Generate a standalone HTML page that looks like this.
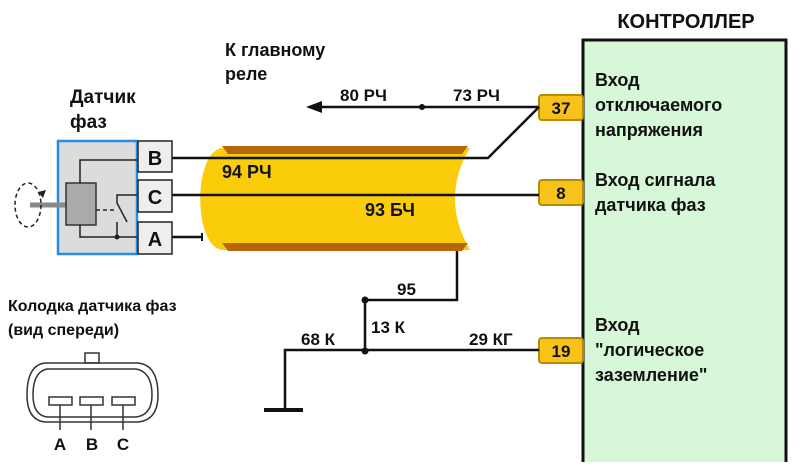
<!DOCTYPE html>
<html><head><meta charset="utf-8"><style>
body{margin:0;background:#fff}
svg text{font-family:"Liberation Sans","DejaVu Sans",sans-serif;font-weight:bold;fill:#111}
</style></head><body>
<svg width="800" height="462" viewBox="0 0 800 462" xmlns="http://www.w3.org/2000/svg">
<!-- controller -->
<rect x="583" y="40" width="203" height="440" fill="#d6f7d8" stroke="#111" stroke-width="3"/>
<text x="686" y="28" font-size="20" text-anchor="middle">КОНТРОЛЛЕР</text>
<text x="595" y="86" font-size="18">Вход</text>
<text x="595" y="111" font-size="18">отключаемого</text>
<text x="595" y="136" font-size="18">напряжения</text>
<text x="595" y="186" font-size="18">Вход сигнала</text>
<text x="595" y="211" font-size="18">датчика фаз</text>
<text x="595" y="331" font-size="18">Вход</text>
<text x="595" y="356" font-size="18">"логическое</text>
<text x="595" y="381" font-size="18">заземление"</text>
<!-- pins -->
<g fill="#f7c21a" stroke="#b88a00" stroke-width="2">
<rect x="539" y="95" width="44" height="25" rx="3"/>
<rect x="539" y="180" width="44" height="25" rx="3"/>
<rect x="539" y="338" width="44" height="25" rx="3"/>
</g>
<text x="561" y="114" font-size="17" text-anchor="middle">37</text>
<text x="561" y="199" font-size="17" text-anchor="middle">8</text>
<text x="561" y="357" font-size="17" text-anchor="middle">19</text>
<!-- cable -->
<path d="M222 148 L470 148 Q440 198 470 250 L222 250 C193 246 193 152 222 148 Z" fill="#fbcc0a"/>
<polygon points="222,146 468,146 462,154 228,154" fill="#b8660a"/>
<polygon points="222,243 468,243 462,251 228,251" fill="#b8660a"/>
<!-- wires -->
<g stroke="#111" stroke-width="2.5" fill="none">
<line x1="320" y1="107" x2="539" y2="107"/>
<polyline points="539,107 488,158 172,158"/>
<line x1="172" y1="195" x2="539" y2="195"/>
<line x1="172" y1="237" x2="202" y2="237"/>
<line x1="202" y1="233" x2="202" y2="241" stroke-width="2"/>
<polyline points="457,251 457,300 365,300 365,351"/>
<polyline points="539,350 285,350 285,410"/>
<line x1="264" y1="410" x2="303" y2="410" stroke-width="4"/>
</g>
<polygon points="306,107 322,101 322,113" fill="#111"/>
<circle cx="422" cy="107" r="3" fill="#111"/>
<circle cx="365" cy="300" r="3.5" fill="#111"/>
<circle cx="365" cy="351" r="3.5" fill="#111"/>
<text x="340" y="101" font-size="17">80 РЧ</text>
<text x="453" y="101" font-size="17">73 РЧ</text>
<text x="222" y="178" font-size="18">94 РЧ</text>
<text x="365" y="216" font-size="18">93 БЧ</text>
<text x="397" y="295" font-size="17">95</text>
<text x="371" y="333" font-size="17">13 К</text>
<text x="301" y="345" font-size="17">68 К</text>
<text x="469" y="345" font-size="17">29 КГ</text>
<text x="225" y="56" font-size="18">К главному</text>
<text x="225" y="80" font-size="18">реле</text>
<text x="70" y="103" font-size="19">Датчик</text>
<text x="70" y="128" font-size="19">фаз</text>
<!-- sensor -->
<rect x="58" y="141" width="79" height="113" fill="#dcdcdc" stroke="#2a8ee0" stroke-width="2.5"/>
<g fill="#eee" stroke="#222" stroke-width="1.5">
<rect x="138" y="141" width="34" height="31"/>
<rect x="138" y="180" width="34" height="32"/>
<rect x="138" y="222" width="34" height="32"/>
</g>
<text x="155" y="165" font-size="20" text-anchor="middle">B</text>
<text x="155" y="204" font-size="20" text-anchor="middle">C</text>
<text x="155" y="246" font-size="20" text-anchor="middle">A</text>
<line x1="30" y1="205" x2="66" y2="205" stroke="#888" stroke-width="5"/>
<ellipse cx="28" cy="205" rx="13" ry="22" fill="none" stroke="#222" stroke-width="1.5" stroke-dasharray="4,3"/>
<polygon points="38,192 46,190 43,198" fill="#222"/>
<rect x="66" y="183" width="30" height="42" fill="#aaa" stroke="#333" stroke-width="1.5"/>
<g stroke="#222" stroke-width="1.5" fill="none">
<polyline points="80,183 80,160 137,160"/>
<polyline points="80,225 80,237 137,237"/>
<polyline points="137,195 117,195 117,203 127,222"/>
<line x1="96" y1="210" x2="117" y2="210" stroke-dasharray="4,3"/>
<line x1="117" y1="222" x2="117" y2="237"/>
</g>
<circle cx="117" cy="237" r="2.5" fill="#222"/>
<!-- connector -->
<text x="8" y="311" font-size="16">Колодка датчика фаз</text>
<text x="8" y="335" font-size="16">(вид спереди)</text>
<g stroke="#333" stroke-width="1.5" fill="none">
<rect x="85" y="353" width="14" height="10" fill="#fff"/>
<path d="M45 363 L138 363 Q158 365 158 395 Q158 420 138 422 L45 422 Q27 420 27 395 Q27 365 45 363 Z"/>
<path d="M47 369 L136 369 Q152 372 152 395 Q152 415 136 417 L47 417 Q33 415 33 395 Q33 372 47 369 Z"/>
<rect x="49" y="397" width="23" height="8"/>
<rect x="80" y="397" width="23" height="8"/>
<rect x="112" y="397" width="23" height="8"/>
<line x1="60" y1="405" x2="60" y2="430"/>
<line x1="91" y1="405" x2="91" y2="430"/>
<line x1="123" y1="405" x2="123" y2="430"/>
</g>
<text x="60" y="450" font-size="17" text-anchor="middle">A</text>
<text x="92" y="450" font-size="17" text-anchor="middle">B</text>
<text x="123" y="450" font-size="17" text-anchor="middle">C</text>
</svg>
</body></html>
